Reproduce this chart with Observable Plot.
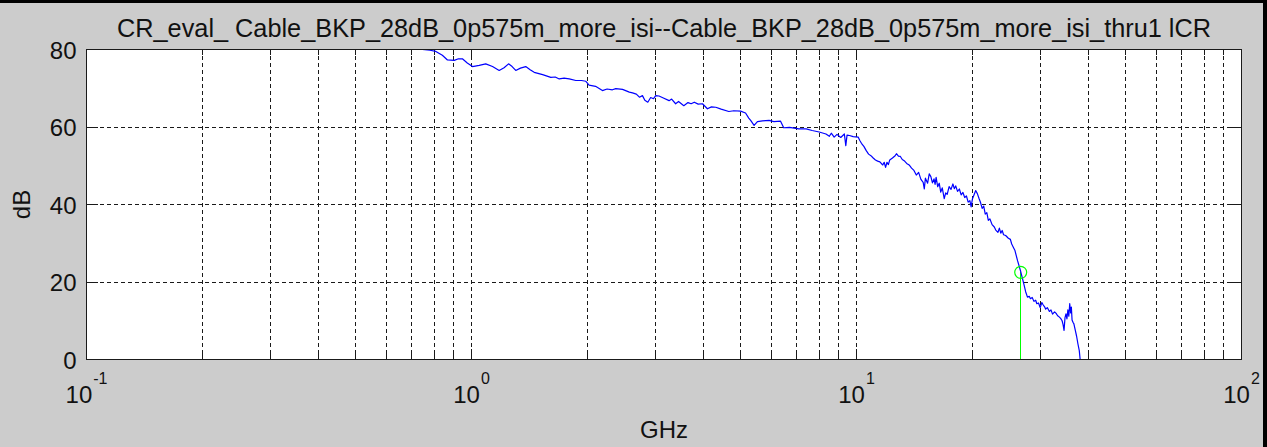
<!DOCTYPE html>
<html>
<head>
<meta charset="utf-8">
<script src="https://cdn.jsdelivr.net/npm/d3@7"></script>
<script src="https://cdn.jsdelivr.net/npm/@observablehq/plot@0.6"></script>
<style>
  html, body { margin: 0; padding: 0; background: #cccccc; }
  #wrap { position: relative; width: 1267px; height: 447px; overflow: hidden; }
  #border { position: absolute; left: 0; top: 0; width: 1267px; height: 447px; box-sizing: border-box;
            border-top: 3px solid #000; border-right: 4px solid #000; pointer-events: none; }
  svg { display: block; }
</style>
</head>
<body>
<div id="wrap"><div id="border"></div></div>
<script>
const titleText = "CR_eval_ Cable_BKP_28dB_0p575m_more_isi--Cable_BKP_28dB_0p575m_more_isi_thru1 lCR";
const xLabel = "GHz";
const yLabel = "dB";

// Trace of the blue curve (GHz, dB)
const freqGHz = [
  0.745, 0.78, 0.808, 0.84, 0.866, 0.902, 0.925, 0.947, 0.975, 1.006,
  1.047, 1.089, 1.134, 1.18, 1.215, 1.248, 1.275, 1.303, 1.34, 1.383,
  1.42, 1.455, 1.53, 1.607, 1.65, 1.69, 1.74, 1.794, 1.866, 1.93,
  1.982, 2.02, 2.1, 2.188, 2.25, 2.323, 2.37, 2.468, 2.57, 2.62,
  2.68, 2.73, 2.78, 2.82, 2.87, 2.92, 2.97, 3.01, 3.07, 3.15,
  3.26, 3.31, 3.39, 3.45, 3.56, 3.65, 3.72, 3.79, 3.88, 3.98,
  4.1, 4.2, 4.31, 4.45, 4.66, 4.8, 5.0, 5.15, 5.25, 5.31,
  5.42, 5.53, 5.7, 5.93, 6.1, 6.35, 6.47, 6.7, 7.08, 7.4,
  7.67, 8.0, 8.33, 8.5, 8.6, 8.75, 8.9, 9.1, 9.3, 9.38,
  9.45, 9.59, 9.8,
  10.1, 10.2, 10.3, 10.45, 10.6, 10.75, 10.9, 11.05, 11.2, 11.35,
  11.5, 11.7, 11.8, 11.9, 12.0, 12.1, 12.2, 12.4, 12.6, 12.7,
  12.85, 13.0, 13.15, 13.3, 13.5, 13.7, 13.9,
  14.1, 14.3, 14.5, 14.7, 14.9, 15.0, 15.1, 15.3, 15.45, 15.6,
  15.75, 15.9, 16.0, 16.1, 16.25, 16.4, 16.55, 16.7, 16.9, 17.05,
  17.2, 17.4, 17.6, 17.8, 17.95, 18.1, 18.3, 18.5, 18.7, 18.9,
  19.1, 19.3, 19.5, 19.7, 19.85, 20.0, 20.2, 20.4, 20.6, 20.8,
  21.0, 21.2, 21.4, 21.6, 21.8, 22.0, 22.2, 22.5, 22.8, 23.0,
  23.3, 23.5, 23.7, 23.9, 24.1, 24.4, 24.8, 25.1, 25.3, 25.6,
  25.8, 26.2, 26.7, 27.2, 27.5, 27.8, 28.1, 28.3, 28.6, 28.9,
  29.2, 29.4, 29.7, 30.0, 30.3, 30.5, 30.8, 31.0, 31.3, 31.7,
  32.0, 32.3, 32.7, 33.0, 33.3, 33.6, 33.9, 34.2, 34.4, 34.6,
  34.8, 35.0, 35.2, 35.4, 35.6, 35.8, 36.0, 36.15, 36.3, 36.5,
  36.7, 37.0, 37.3, 37.6, 37.9, 38.1
];
const lossDb = [
  80.0, 79.8, 79.5, 78.5, 77.3, 77.2, 77.6, 77.6, 76.5, 75.6,
  75.9, 76.3, 75.6, 74.6, 75.3, 76.3, 75.6, 74.6, 75.2, 75.6,
  74.8, 74.1, 73.5, 72.8, 72.9, 72.4, 72.6, 72.4, 72.0, 72.0,
  71.8, 70.8, 70.5, 69.4, 69.8, 69.6, 69.9, 69.7, 69.0, 68.8,
  68.5, 67.7, 68.1, 66.9, 66.4, 67.6, 67.3, 68.1, 68.0, 67.5,
  66.8, 67.2, 66.0, 66.6, 65.5, 66.3, 66.0, 66.4, 65.9, 66.0,
  64.7, 65.2, 65.1, 64.6, 64.0, 64.2, 64.1, 63.6, 62.3, 61.7,
  60.4, 61.4, 61.6, 61.7, 61.4, 61.5, 59.8, 59.9, 59.5, 59.5,
  59.1, 58.7, 58.2, 57.6, 58.4, 57.4, 58.1, 57.3, 58.2, 55.2,
  57.9, 57.8, 57.5,
  57.4, 56.5, 55.8, 55.0, 53.9, 53.0, 52.6, 52.0, 51.5, 51.2,
  51.0, 50.2, 50.9, 49.6, 50.9, 50.3, 51.5, 52.0, 52.6, 53.1,
  52.5, 52.4, 51.6, 51.3, 50.6, 50.2, 49.4,
  48.8, 47.6, 48.3, 46.5, 45.7, 44.0, 46.8, 45.5, 47.9, 47.2,
  45.6, 46.6, 45.2, 47.0, 44.6, 45.5, 43.2, 44.3, 41.5, 43.0,
  42.6, 44.6, 43.9, 45.3, 44.1, 44.8, 43.4, 44.0, 42.5, 43.1,
  41.8, 42.2, 40.6, 41.0, 39.4, 41.4, 42.5, 43.6, 42.8, 41.6,
  40.5, 39.0, 39.6, 37.5, 37.9, 35.9, 36.3, 34.8, 34.2, 33.4,
  32.8, 33.9, 32.6, 33.3, 32.2, 32.0, 31.3, 31.0, 29.8, 28.8,
  28.1, 25.5, 22.7, 19.5, 17.5, 16.1, 16.3, 15.7, 16.0, 15.0,
  15.3, 14.4, 14.6, 13.4, 14.7, 14.2, 13.6, 13.0, 13.4, 12.4,
  12.8, 11.7, 12.3, 11.9, 11.3, 11.0, 10.6, 10.0, 9.0, 7.5,
  10.8, 11.8, 10.5, 12.8, 11.2, 14.4, 12.0, 13.5, 10.2, 9.6,
  9.2, 7.6, 6.0, 4.0, 2.3, 0.0
];

// Green marker
const markerGHz = [26.7];
const markerDb = [22.5];

// Axes
const xDomain = [0.1, 100];
const yDomain = [0, 80];
const xMajor = [0.1, 1, 10, 100];
const xMajorExp = ["-1", "0", "1", "2"];
const xMinor = [0.2, 0.3, 0.4, 0.5, 0.6, 0.7, 0.8, 0.9,
                2, 3, 4, 5, 6, 7, 8, 9,
                20, 30, 40, 50, 60, 70, 80, 90];
const yTicks = [0, 20, 40, 60, 80];
const yTickLabels = ["0", "20", "40", "60", "80"];

const curve = freqGHz.map((f, i) => ({f, v: lossDb[i]}));
const marker = markerGHz.map((f, i) => ({f, v: markerDb[i]}));
const yLabels = yTicks.map((y, i) => ({y, t: yTickLabels[i]}));
const xGrid = xMinor.concat([1, 10]);
const yGrid = [20, 40, 60];
const xInnerMajor = [1, 10];

const FH = 310, FW = 1155; // frame size (styling only)
const ink = "#1a1a1a";
const FONT = "'Liberation Sans', Arial, sans-serif";

// measure text widths to center "10^e" labels as a whole
const ctx = document.createElement("canvas").getContext("2d");
function tw(s, size) { ctx.font = `${size}px 'Liberation Sans', Arial, sans-serif`; return ctx.measureText(s).width; }
const baseW = tw("10", 24);

const xLabelMarks = xMajor.flatMap((x, i) => {
  const e = xMajorExp[i];
  const total = baseW + 1 + tw(e, 16);
  const endOfBase = -total / 2 + baseW;
  return [
    Plot.text([x], {x: d => d, text: () => "10", frameAnchor: "bottom", textAnchor: "end", lineAnchor: "bottom", dx: endOfBase, dy: 43, fontSize: 24, fill: "#111"}),
    Plot.text([x], {x: d => d, text: () => e, frameAnchor: "bottom", textAnchor: "start", lineAnchor: "bottom", dx: endOfBase + 1, dy: 24, fontSize: 16, fill: "#111"})
  ];
});

const chart = Plot.plot({
  width: 1267,
  height: 447,
  marginLeft: 86,
  marginRight: 26,
  marginTop: 49,
  marginBottom: 88,
  style: {background: "transparent", fontFamily: FONT, color: "#111", overflow: "visible"},
  x: {type: "log", domain: xDomain, axis: null},
  y: {domain: yDomain, axis: null},
  marks: [
    Plot.frame({fill: "white", stroke: null}),
    Plot.ruleX(xGrid, {x: d => d, stroke: ink, strokeWidth: 1, strokeDasharray: "4,3", shapeRendering: "crispEdges"}),
    Plot.ruleY(yGrid, {y: d => d, stroke: ink, strokeWidth: 1, strokeDasharray: "4,3", shapeRendering: "crispEdges"}),
    Plot.ruleX(xInnerMajor, {x: d => d, stroke: ink, insetTop: FH - 10, shapeRendering: "crispEdges"}),
    Plot.ruleX(xInnerMajor, {x: d => d, stroke: ink, insetBottom: FH - 10, shapeRendering: "crispEdges"}),
    Plot.ruleX(xMinor, {x: d => d, stroke: ink, insetTop: FH - 6, shapeRendering: "crispEdges"}),
    Plot.ruleX(xMinor, {x: d => d, stroke: ink, insetBottom: FH - 6, shapeRendering: "crispEdges"}),
    Plot.ruleY(yGrid, {y: d => d, stroke: ink, insetRight: FW - 12, shapeRendering: "crispEdges"}),
    Plot.ruleY(yGrid, {y: d => d, stroke: ink, insetLeft: FW - 12, shapeRendering: "crispEdges"}),
    Plot.ruleX(marker, {x: "f", y1: 0, y2: "v", stroke: "#00ff00", strokeWidth: 1, shapeRendering: "crispEdges"}),
    Plot.line(curve, {x: "f", y: "v", stroke: "#0000ff", strokeWidth: 1.2, clip: true}),
    Plot.dot(marker, {x: "f", y: "v", r: 6, stroke: "#00ff00", fill: "none", strokeWidth: 1.2}),
    Plot.frame({stroke: ink, strokeWidth: 1}),
    // tick labels
    Plot.text(yLabels, {y: "y", text: "t", frameAnchor: "left", textAnchor: "end", lineAnchor: "bottom", dx: -10, dy: 9, fontSize: 24, fill: "#111"}),
    ...xLabelMarks,
    // axis titles and title
    Plot.text([xLabel], {text: d => d, frameAnchor: "bottom", textAnchor: "middle", lineAnchor: "bottom", dy: 78, fontSize: 24, fill: "#111"}),
    Plot.text([yLabel], {text: d => d, frameAnchor: "left", textAnchor: "middle", lineAnchor: "middle", rotate: -90, dx: -64, fontSize: 24, fill: "#111"}),
    Plot.text([titleText], {text: d => d, frameAnchor: "top", textAnchor: "middle", lineAnchor: "bottom", dy: -13, fontSize: 25.3, fill: "#111"})
  ]
});
document.getElementById("wrap").insertBefore(chart, document.getElementById("border"));
</script>
</body>
</html>
